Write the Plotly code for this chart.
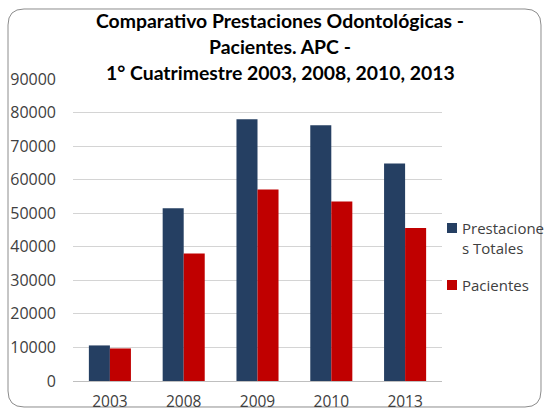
import plotly.graph_objects as go

# Chart data
years = ["2003", "2008", "2009", "2010", "2013"]
prestaciones_totales = [10600, 51500, 78000, 76200, 64800]
pacientes = [9700, 38000, 57100, 53500, 45600]
y_ticks = [0, 10000, 20000, 30000, 40000, 50000, 60000, 70000, 80000, 90000]
title_lines = [
    "Comparativo Prestaciones Odontológicas -",
    "Pacientes. APC -",
    "1° Cuatrimestre 2003, 2008, 2010, 2013",
]
series_names = ["Prestacione<br>s Totales", "Pacientes"]
series_colors = ["#253F62", "#C00000"]

W, H = 546, 411
M_L, M_R, M_T, M_B = 73, 104, 79, 30
plot_w = W - M_L - M_R
plot_h = H - M_T - M_B


def px_to_paper(x, y):
    """Convert pixel position (top-left origin) to paper coordinates."""
    return (x - M_L) / plot_w, (H - M_B - y) / plot_h


fig = go.Figure()
for name, values, color in zip(series_names, [prestaciones_totales, pacientes], series_colors):
    fig.add_trace(go.Bar(
        x=years, y=values, name=name, showlegend=False,
        marker=dict(color=color, line=dict(width=0)),
    ))

# Rounded chart border
x0, y0, x1, y1, r = 8, 9, 541, 407, 16
pts = {
    "a": px_to_paper(x0 + r, y0), "b": px_to_paper(x1 - r, y0),
    "c": px_to_paper(x1, y0), "d": px_to_paper(x1, y0 + r),
    "e": px_to_paper(x1, y1 - r), "f": px_to_paper(x1, y1),
    "g": px_to_paper(x1 - r, y1), "h": px_to_paper(x0 + r, y1),
    "i": px_to_paper(x0, y1), "j": px_to_paper(x0, y1 - r),
    "k": px_to_paper(x0, y0 + r), "l": px_to_paper(x0, y0),
}
p = lambda k: f"{pts[k][0]:.5f},{pts[k][1]:.5f}"
path = (f"M {p('a')} L {p('b')} Q {p('c')} {p('d')} L {p('e')} Q {p('f')} {p('g')} "
        f"L {p('h')} Q {p('i')} {p('j')} L {p('k')} Q {p('l')} {p('a')} Z")
fig.add_shape(type="path", path=path, xref="paper", yref="paper",
              line=dict(color="#8C8C8C", width=1), fillcolor="rgba(0,0,0,0)", layer="below")

# Three-line bold title
for text, cy in zip(title_lines, [21, 47, 72]):
    tx, ty = px_to_paper(280, cy)
    fig.add_annotation(
        text=text, x=tx, y=ty, xref="paper", yref="paper",
        xanchor="center", yanchor="middle", showarrow=False,
        font=dict(family="Lato", size=19.4, color="#000000", weight="bold"),
    )

# Legend: colour keys with labels on the right side
for name, color, key_y, text_y in zip(series_names, series_colors, [228, 285], [238, 285]):
    sx0, sy0 = px_to_paper(447, key_y - 5)
    sx1, sy1 = px_to_paper(457, key_y + 5)
    fig.add_shape(type="rect", xref="paper", yref="paper",
                  x0=sx0, x1=sx1, y0=sy1, y1=sy0,
                  fillcolor=color, line=dict(width=0))
    ax, ay = px_to_paper(460, text_y)
    fig.add_annotation(
        text=name, x=ax, y=ay, xref="paper", yref="paper",
        xanchor="left", yanchor="middle", align="left", showarrow=False,
        font=dict(family="Open Sans", size=15, color="#404040"),
    )

fig.update_layout(
    width=W, height=H,
    margin=dict(l=M_L, r=M_R, t=M_T, b=M_B, autoexpand=False),
    paper_bgcolor="white", plot_bgcolor="white",
    font=dict(family="Open Sans", color="#404040"),
    barmode="group", bargap=0.43, bargroupgap=0,
    xaxis=dict(
        showgrid=False, showline=True, linecolor="#BFBFBF", linewidth=1,
        ticks="", tickfont=dict(size=15.5, color="#404040"),
        ticklabelstandoff=6,
    ),
    yaxis=dict(
        range=[0, 90000], tickvals=y_ticks, ticktext=[str(v) for v in y_ticks],
        showgrid=True, gridcolor="#D4D4D4", gridwidth=1,
        showline=False, zeroline=False, ticks="",
        tickfont=dict(size=16, color="#404040"),
        ticklabelstandoff=16,
    ),
)

fig.write_html("out.html")
